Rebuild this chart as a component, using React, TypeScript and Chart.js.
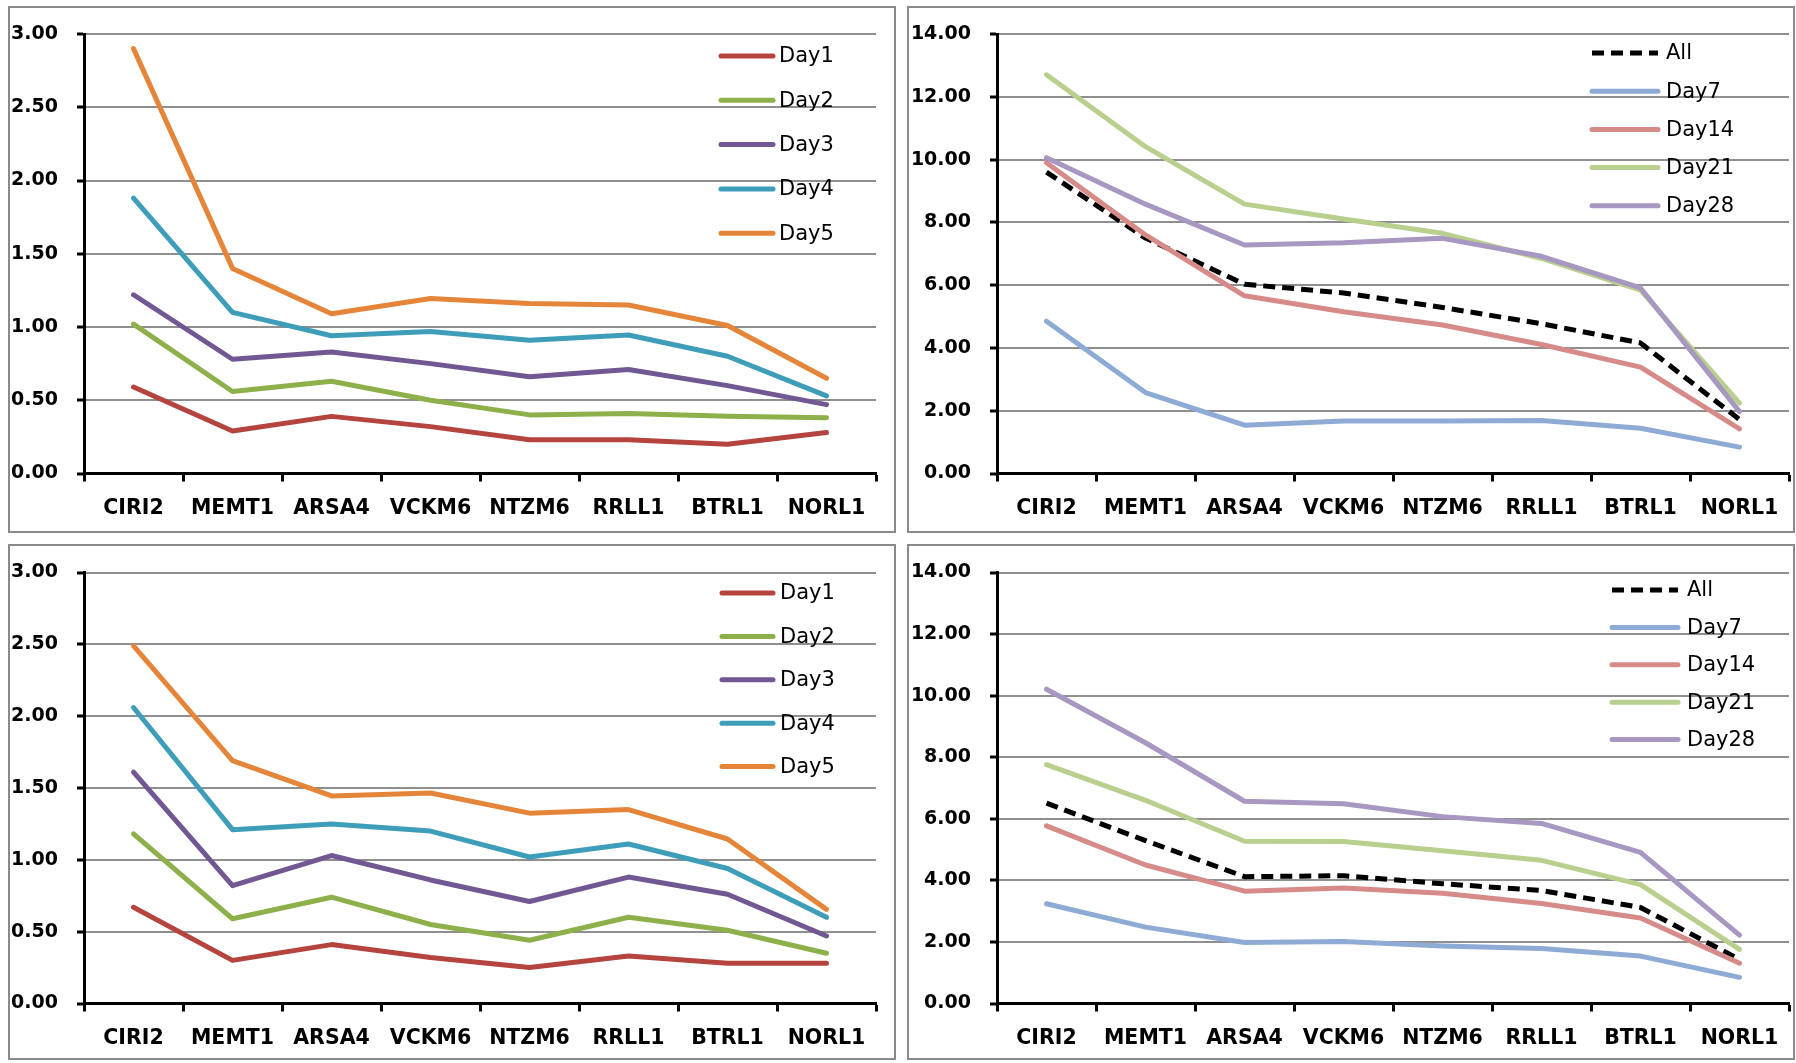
import React, { useEffect, useRef } from 'react';
import { Chart, registerables } from 'chart.js';

Chart.register(...registerables);

// ---------- data ----------
const categories = ['CIRI2', 'MEMT1', 'ARSA4', 'VCKM6', 'NTZM6', 'RRLL1', 'BTRL1', 'NORL1'];

const leftLabels = ['Day1', 'Day2', 'Day3', 'Day4', 'Day5'];
const rightLabels = ['All', 'Day7', 'Day14', 'Day21', 'Day28'];

// top-left
const tlDay1 = [0.59, 0.29, 0.39, 0.32, 0.23, 0.23, 0.2, 0.28];
const tlDay2 = [1.02, 0.56, 0.63, 0.5, 0.4, 0.41, 0.39, 0.38];
const tlDay3 = [1.22, 0.78, 0.83, 0.75, 0.66, 0.71, 0.6, 0.47];
const tlDay4 = [1.88, 1.1, 0.94, 0.97, 0.91, 0.945, 0.8, 0.53];
const tlDay5 = [2.9, 1.4, 1.09, 1.195, 1.16, 1.15, 1.01, 0.65];

// top-right
const trAll = [9.6, 7.5, 6.03, 5.75, 5.29, 4.77, 4.16, 1.72];
const trDay7 = [4.85, 2.58, 1.54, 1.67, 1.67, 1.69, 1.44, 0.84];
const trDay14 = [9.9, 7.6, 5.66, 5.15, 4.73, 4.11, 3.39, 1.42];
const trDay21 = [12.7, 10.41, 8.58, 8.11, 7.65, 6.85, 5.84, 2.24];
const trDay28 = [10.06, 8.58, 7.28, 7.35, 7.49, 6.92, 5.91, 1.97];

// bottom-left
const blDay1 = [0.67, 0.3, 0.41, 0.32, 0.25, 0.33, 0.28, 0.28];
const blDay2 = [1.18, 0.59, 0.74, 0.55, 0.44, 0.6, 0.51, 0.35];
const blDay3 = [1.61, 0.82, 1.03, 0.86, 0.71, 0.88, 0.76, 0.47];
const blDay4 = [2.06, 1.21, 1.25, 1.2, 1.02, 1.11, 0.94, 0.6];
const blDay5 = [2.49, 1.69, 1.445, 1.465, 1.325, 1.35, 1.145, 0.655];

// bottom-right
const brAll = [6.51, 5.29, 4.12, 4.15, 3.89, 3.67, 3.12, 1.43];
const brDay7 = [3.24, 2.48, 1.98, 2.01, 1.87, 1.79, 1.54, 0.85];
const brDay14 = [5.77, 4.5, 3.65, 3.75, 3.58, 3.25, 2.78, 1.31];
const brDay21 = [7.76, 6.6, 5.27, 5.26, 4.96, 4.65, 3.86, 1.76];
const brDay28 = [10.21, 8.47, 6.57, 6.49, 6.07, 5.85, 4.91, 2.22];

// y axis setups
const leftYMax = 3;
const leftYStep = 0.5;
const rightYMax = 14;
const rightYStep = 2;

// ---------- styles ----------
const leftColors = ['#B5443F', '#8EB04B', '#725893', '#3E9EBA', '#E4853A'];
const rightColors = ['#000000', '#8EABD5', '#D68B89', '#B8CF8E', '#A797C1'];

const FONT = "'DejaVu Sans', sans-serif";

type LegendSpec = { x1: number; x2: number; tx: number; y0: number; dy: number };

type PanelSpec = {
  left: number;
  top: number;
  width: number;
  height: number;
  yWidth: number;
  xHeight: number;
  padTop: number;
  padRight: number;
  yMax: number;
  yStep: number;
  labels: string[];
  series: number[][];
  colors: string[];
  dashedFirst: boolean;
  legend: LegendSpec;
};

const legendPlugin = {
  id: 'customLegend',
  afterDraw(chart: any, _args: any, opts: any) {
    const ctx = chart.ctx;
    const spec: LegendSpec = opts.spec;
    if (!spec) return;
    ctx.save();
    chart.data.datasets.forEach((ds: any, i: number) => {
      const y = spec.y0 + i * spec.dy;
      ctx.beginPath();
      ctx.strokeStyle = ds.borderColor;
      ctx.lineWidth = 5;
      if (ds.borderDash && ds.borderDash.length) {
        ctx.setLineDash(ds.borderDash);
        ctx.lineCap = 'butt';
      } else {
        ctx.setLineDash([]);
        ctx.lineCap = 'round';
      }
      ctx.moveTo(spec.x1, y);
      ctx.lineTo(spec.x2, y);
      ctx.stroke();
      ctx.setLineDash([]);
      ctx.fillStyle = '#000';
      ctx.font = `21px ${FONT}`;
      ctx.textBaseline = 'middle';
      ctx.textAlign = 'left';
      ctx.fillText(ds.label, spec.tx, y + 1);
    });
    ctx.restore();
  },
};

function Panel({ spec }: { spec: PanelSpec }) {
  const ref = useRef<HTMLCanvasElement | null>(null);
  useEffect(() => {
    if (!ref.current) return;
    const n = spec.series.length;
    const datasets = spec.series.map((data, i) => ({
      label: spec.labels[i],
      data,
      borderColor: spec.colors[i],
      backgroundColor: spec.colors[i],
      borderWidth: 5,
      borderDash: spec.dashedFirst && i === 0 ? [12, 7] : [],
      borderCapStyle: spec.dashedFirst && i === 0 ? 'butt' : 'round',
      borderJoinStyle: 'round',
      pointRadius: 0,
      tension: 0,
      order: n - i,
    }));
    const chart = new Chart(ref.current, {
      type: 'line',
      data: { labels: categories, datasets: datasets as any },
      options: {
        animation: false,
        responsive: false,
        maintainAspectRatio: false,
        devicePixelRatio: 1,
        layout: { padding: { top: spec.padTop, right: spec.padRight, left: 0, bottom: 0 } },
        plugins: {
          legend: { display: false },
          tooltip: { enabled: false },
          customLegend: { spec: spec.legend },
        } as any,
        scales: {
          x: {
            type: 'category',
            offset: true,
            grid: {
              offset: true,
              drawOnChartArea: false,
              drawTicks: true,
              tickLength: 8,
              tickColor: '#000',
              tickWidth: 3,
            },
            border: { color: '#000', width: 3 },
            ticks: {
              color: '#000',
              font: { family: FONT, size: 20.5, weight: 'bold' },
              padding: 15,
              maxRotation: 0,
              autoSkip: false,
            },
            afterFit: (s: any) => {
              s.height = spec.xHeight;
              s.paddingLeft = 0;
              s.paddingRight = 0;
            },
          },
          y: {
            min: 0,
            max: spec.yMax,
            grid: {
              color: '#8f8f8f',
              lineWidth: 2,
              drawTicks: true,
              tickLength: 7,
              tickColor: '#000',
              tickWidth: 3,
            },
            border: { color: '#000', width: 3 },
            ticks: {
              stepSize: spec.yStep,
              color: '#000',
              font: { family: FONT, size: 19, weight: 'bold' },
              padding: 19,
              callback: (v: any) => Number(v).toFixed(2),
            },
            afterFit: (s: any) => {
              s.width = spec.yWidth;
              s.paddingTop = 0;
              s.paddingBottom = 0;
            },
          },
        },
      } as any,
      plugins: [legendPlugin],
    });
    return () => chart.destroy();
  }, [spec]);

  const border = 2;
  return (
    <div
      style={{
        position: 'absolute',
        left: spec.left,
        top: spec.top,
        width: spec.width - 2 * border,
        height: spec.height - 2 * border,
        border: `${border}px solid #8a8a8a`,
        background: '#fff',
      }}
    >
      <canvas
        ref={ref}
        width={spec.width - 2 * border}
        height={spec.height - 2 * border}
        style={{ display: 'block', width: spec.width - 2 * border, height: spec.height - 2 * border }}
      />
    </div>
  );
}

const panels: PanelSpec[] = [
  {
    left: 8, top: 6, width: 888, height: 527,
    yWidth: 74, xHeight: 57.5, padTop: 26, padRight: 18,
    yMax: leftYMax, yStep: leftYStep,
    labels: leftLabels,
    series: [tlDay1, tlDay2, tlDay3, tlDay4, tlDay5],
    colors: leftColors, dashedFirst: false,
    legend: { x1: 711, x2: 763, tx: 769, y0: 48, dy: 44.3 },
  },
  {
    left: 907, top: 6, width: 888, height: 527,
    yWidth: 88, xHeight: 57.5, padTop: 26, padRight: 4,
    yMax: rightYMax, yStep: rightYStep,
    labels: rightLabels,
    series: [trAll, trDay7, trDay14, trDay21, trDay28],
    colors: rightColors, dashedFirst: true,
    legend: { x1: 683, x2: 749, tx: 757, y0: 45, dy: 38.2 },
  },
  {
    left: 8, top: 544, width: 888, height: 516,
    yWidth: 74, xHeight: 54.5, padTop: 26.5, padRight: 18,
    yMax: leftYMax, yStep: leftYStep,
    labels: leftLabels,
    series: [blDay1, blDay2, blDay3, blDay4, blDay5],
    colors: leftColors, dashedFirst: false,
    legend: { x1: 712, x2: 763, tx: 770, y0: 47, dy: 43.4 },
  },
  {
    left: 907, top: 544, width: 888, height: 516,
    yWidth: 88, xHeight: 54.5, padTop: 26.5, padRight: 4,
    yMax: rightYMax, yStep: rightYStep,
    labels: rightLabels,
    series: [brAll, brDay7, brDay14, brDay21, brDay28],
    colors: rightColors, dashedFirst: true,
    legend: { x1: 703, x2: 769, tx: 778, y0: 44, dy: 37.4 },
  },
];

export default function App() {
  return (
    <div style={{ position: 'absolute', left: 0, top: 0, width: 1796, height: 1063, background: '#fff' }}>
      {panels.map((p, i) => (
        <Panel key={i} spec={p} />
      ))}
    </div>
  );
}
